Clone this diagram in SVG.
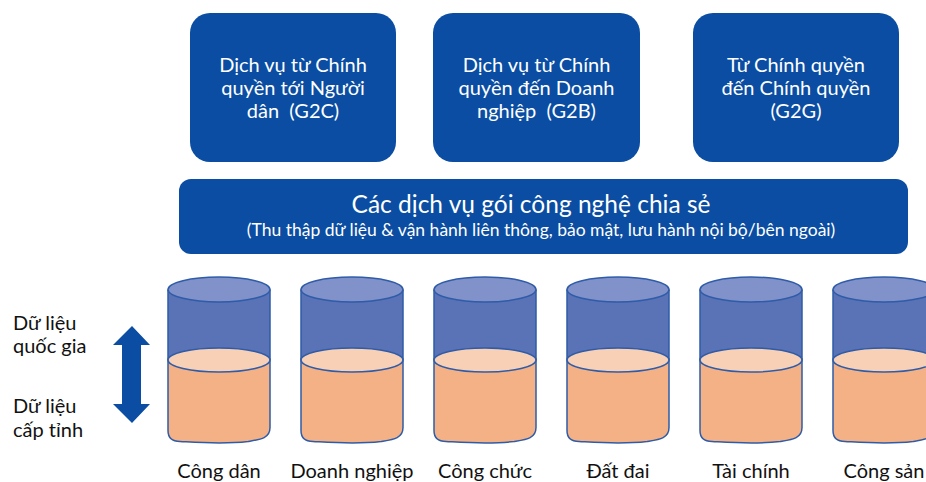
<svg xmlns="http://www.w3.org/2000/svg" width="926" height="482" viewBox="0 0 926 482">
<defs>
<style>
.box{fill:#0A4DA2;}
.wt{fill:#FFFFFF;font-family:Lato,"Liberation Sans",sans-serif;text-anchor:middle;white-space:pre;}
.bt{font-size:20px;}
.lbl{fill:#111111;font-family:Lato,"Liberation Sans",sans-serif;font-size:20px;}
.cl{text-anchor:middle;}
.stk{stroke:#2F5CA8;stroke-width:1.5;}
.top{fill:#8191C9;}
.blue{fill:#5A72B6;}
.otop{fill:#F8D0B6;}
.obody{fill:#F3B185;}
</style>
<g id="cyl">
<path class="blue" d="M0,0 V70 H102 V0 Z"/>
<path class="stk" fill="none" d="M0,0 V70 M102,0 V70"/>
<path class="obody stk" d="M0,70 V141 Q0,152 12,152 C30,153 55,155 80,152 C92,150 102,149 102,138 V70 Z"/>
<ellipse class="otop stk" cx="51" cy="70.5" rx="51" ry="12"/>
<ellipse class="top stk" cx="51" cy="0" rx="51" ry="12.5"/>
</g>
</defs>
<g id="g2c">
<rect class="box" x="190" y="13" width="206" height="149" rx="20"/>
<text class="wt bt" x="293" y="72">Dịch vụ từ Chính</text>
<text class="wt bt" x="293" y="95">quyền tới Người</text>
<text class="wt bt" x="293" y="118">dân  (G2C)</text>
</g>
<g id="g2b">
<rect class="box" x="433" y="13" width="207" height="149" rx="20"/>
<text class="wt bt" x="536.5" y="72">Dịch vụ từ Chính</text>
<text class="wt bt" x="536.5" y="95">quyền đến Doanh</text>
<text class="wt bt" x="536.5" y="118">nghiệp  (G2B)</text>
</g>
<g id="g2g">
<rect class="box" x="693" y="13" width="206" height="149" rx="20"/>
<text class="wt bt" x="796" y="72">Từ Chính quyền</text>
<text class="wt bt" x="796" y="95">đến Chính quyền</text>
<text class="wt bt" x="796" y="118">(G2G)</text>
</g>
<g id="shared">
<rect class="box" x="179" y="179" width="729" height="75" rx="12"/>
<text class="wt" x="531" y="213" font-size="24.5">Các dịch vụ gói công nghệ chia sẻ</text>
<text class="wt" x="541" y="236" font-size="17.5">(Thu thập dữ liệu &amp; vận hành liên thông, bảo mật, lưu hành nội bộ/bên ngoài)</text>
</g>
<g id="levels">
<text class="lbl" x="13" y="330">Dữ liệu</text>
<text class="lbl" x="13" y="353">quốc gia</text>
<text class="lbl" x="13" y="413">Dữ liệu</text>
<text class="lbl" x="13" y="437">cấp tỉnh</text>
<path id="arrow" fill="#0A4DA2" d="M132,326 L150,345 H141 V404 H150 L132,423 L113,404 H122 V345 H113 Z"/>
</g>
<g id="db-congdan"><use href="#cyl" x="168" y="289.5"/><text class="lbl cl" x="219" y="478">Công dân</text></g>
<g id="db-doanhnghiep"><use href="#cyl" x="301" y="289.5"/><text class="lbl cl" x="352" y="478">Doanh nghiệp</text></g>
<g id="db-congchuc"><use href="#cyl" x="434" y="289.5"/><text class="lbl cl" x="485" y="478">Công chức</text></g>
<g id="db-datdai"><use href="#cyl" x="567" y="289.5"/><text class="lbl cl" x="618" y="478">Đất đai</text></g>
<g id="db-taichinh"><use href="#cyl" x="700" y="289.5"/><text class="lbl cl" x="751" y="478">Tài chính</text></g>
<g id="db-congsan"><use href="#cyl" x="833" y="289.5"/><text class="lbl cl" x="884" y="478">Công sản</text></g>
<g id="connectors"/>
</svg>
